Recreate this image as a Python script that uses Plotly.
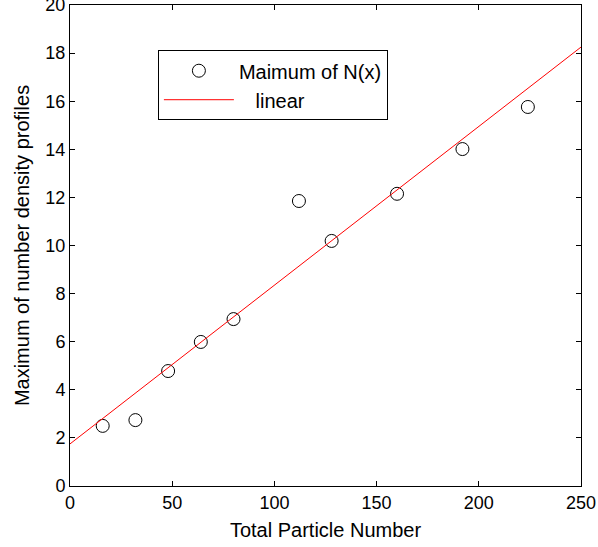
import plotly.graph_objects as go

particle_number = [16, 32, 48, 64, 80, 112, 128, 160, 192, 224]
max_density = [2.50, 2.74, 4.78, 5.99, 6.94, 11.85, 10.19, 12.15, 14.01, 15.76]
linear_x = [0, 250]
linear_y = [1.75, 18.25]

x_ticks = [0, 50, 100, 150, 200, 250]
y_ticks = [0, 2, 4, 6, 8, 10, 12, 14, 16, 18, 20]

font_family = "Liberation Sans, Arial, Helvetica, sans-serif"

fig = go.Figure()
fig.add_trace(go.Scatter(
    x=particle_number, y=max_density, mode="markers", name="Maimum of N(x)",
    marker=dict(symbol="circle-open", size=13, color="black", line=dict(width=1, color="black")),
))
fig.add_trace(go.Scatter(
    x=linear_x, y=linear_y, mode="lines", name="\u00a0\u00a0\u00a0linear",
    line=dict(color="red", width=1),
))

axis_common = dict(
    showgrid=False, zeroline=False, showline=True, linecolor="black", linewidth=1,
    mirror="ticks", ticks="inside", ticklen=5, tickcolor="black",
    tickfont=dict(size=18, color="black", family=font_family),
    ticklabeloverflow="allow",
)

fig.update_layout(
    width=598, height=547,
    margin=dict(l=70, r=17, t=5, b=61),
    paper_bgcolor="white", plot_bgcolor="white",
    font=dict(family=font_family, color="black", size=20),
    xaxis=dict(range=[0, 250], tickvals=x_ticks, automargin=False,
               title=dict(text="Total Particle Number", font=dict(size=20), standoff=11),
               **axis_common),
    yaxis=dict(range=[0, 20], tickvals=y_ticks, automargin=False,
               title=dict(text="Maximum of number density profiles", font=dict(size=20), standoff=10),
               **axis_common),
    legend=dict(x=0.172, y=0.906, xanchor="left", yanchor="top",
                bgcolor="white", bordercolor="black", borderwidth=1,
                font=dict(size=20, family=font_family), itemwidth=70,
                tracegroupgap=0),
    showlegend=True,
)

fig.write_html("out.html", config={"displayModeBar": False},
               post_script="document.body.style.margin='0px';")
